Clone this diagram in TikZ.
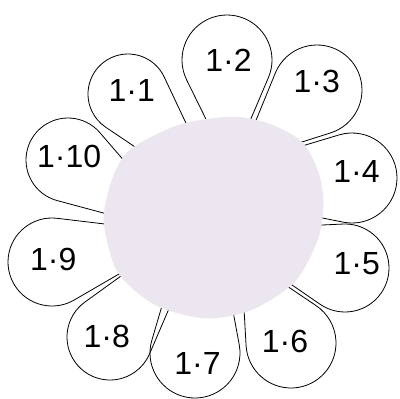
\documentclass[tikz,border=0pt]{standalone}
\usepackage{fontspec}
\setmainfont{Liberation Sans}
\usetikzlibrary{calc}
\definecolor{centrefill}{RGB}{236,230,240}
% one petal: bulb centre, bulb radius, tip (tip sits under the centre)
\newcommand{\petal}[3]{%
  \draw[petal] let \p1=($(#3)-(#1)$), \n1={atan2(\y1,\x1)}, \n2={veclen(\x1,\y1)},
      \n3={acos(#2/\n2)} in
    (#3) -- ($(#1)+(\n1+\n3:#2)$) arc[start angle=\n1+\n3, end angle=\n1-\n3+360, radius=#2] -- cycle;}

\begin{document}
\begin{tikzpicture}[x=1pt, y=1pt,
    petal/.style={line width=0.8pt},
    num/.style={font=\fontsize{32}{36}\selectfont, inner sep=0pt}]
  \useasboundingbox (0,0) rectangle (400,-399);
  \petal{128,-94}{40}{226,-208}
  \petal{227,-60}{45}{230,-168}
  \petal{317,-90}{45}{239,-162}
  \petal{352,-178}{45}{166,-187}
  \petal{345,-268}{44}{212,-230}
  \petal{291,-343}{45}{241,-255}
  \petal{195,-353}{45}{205,-160}
  \petal{110,-337}{43}{211,-211}
  \petal{52,-262}{44}{188,-234}
  \petal{68,-160}{42}{189,-236}
  % centre of the flower
  \fill[centrefill] plot[smooth cycle] coordinates {
    (230,-116.7) (268.3,-123.3) (301.7,-141.7) (318.3,-171.7) (323.3,-201.7)
    (318.3,-238.3) (295,-281.7) (251.7,-310) (205,-318.3) (155,-305)
    (118.3,-273.3) (105,-231.7) (105,-205) (115,-171.7) (131.7,-148.3) (178.3,-125)};
  \node[num] (n1) at (131.7,-90) {1·1};
  \node[num] (n2) at (228.5,-60) {1·2};
  \node[num] (n3) at (316.7,-81.7) {1·3};
  \node[num] (n4) at (356.5,-171.7) {1·4};
  \node[num] (n5) at (356.7,-263.3) {1·5};
  \node[num] (n6) at (285,-341) {1·6};
  \node[num] (n7) at (197.5,-363.3) {1·7};
  \node[num] (n8) at (106.7,-336) {1·8};
  \node[num] (n9) at (53.3,-259) {1·9};
  \node[num] (n10) at (69.2,-156) {1·10};
\end{tikzpicture}
\end{document}
